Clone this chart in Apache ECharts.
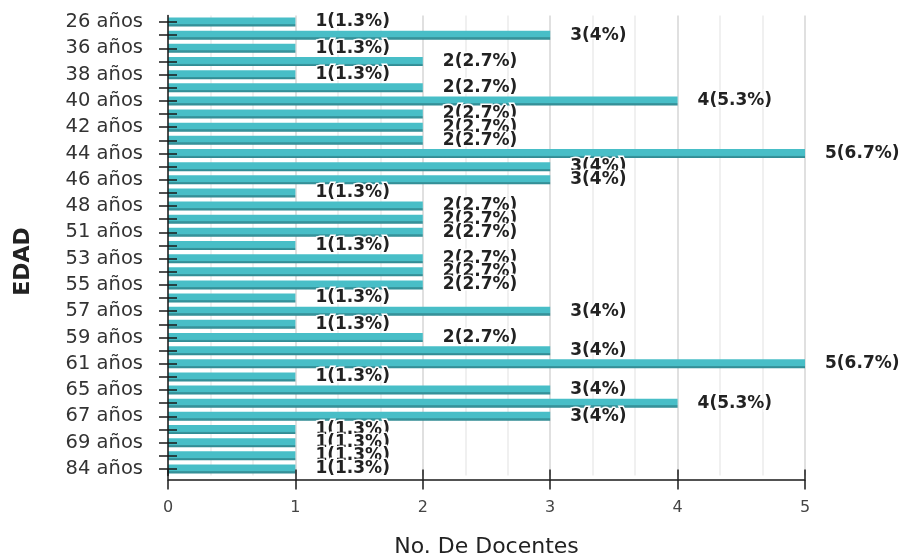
<!DOCTYPE html>
<html>
<head>
<meta charset="utf-8">
<script src="https://cdn.jsdelivr.net/npm/echarts@6/dist/echarts.min.js"></script>
<style>
  html, body { margin: 0; padding: 0; background: #fff; }
  #chart { width: 904px; height: 556px; }
</style>
</head>
<body>
<div id="chart"></div>
<script>
// Age groups (every other label is printed on the axis)
const ages = [
  '26 años', '35 años', '36 años', '37 años', '38 años', '39 años', '40 años',
  '41 años', '42 años', '43 años', '44 años', '45 años', '46 años', '47 años',
  '48 años', '50 años', '51 años', '52 años', '53 años', '54 años', '55 años',
  '56 años', '57 años', '58 años', '59 años', '60 años', '61 años', '63 años',
  '65 años', '66 años', '67 años', '68 años', '69 años', '70 años', '84 años'
];
// Number of teachers per age
const docentes = [
  1, 3, 1, 2, 1, 2, 4,
  2, 2, 2, 5, 3, 3, 1,
  2, 2, 2, 1, 2, 2, 2,
  1, 3, 1, 2, 3, 5, 1,
  3, 4, 3, 1, 1, 1, 1
];
const xTicks = [0, 1, 2, 3, 4, 5];

const total = docentes.reduce((a, b) => a + b, 0);
const font = '"DejaVu Sans", sans-serif';

const chart = echarts.init(document.getElementById('chart'), null, { renderer: 'canvas' });

const barFill = new echarts.graphic.LinearGradient(0, 0, 0, 1, [
  { offset: 0, color: '#48bec7' },
  { offset: 0.72, color: '#48bec7' },
  { offset: 0.74, color: '#3a9aa2' },
  { offset: 1, color: '#2f8991' }
]);

const tickLine = { color: '#1a1a1a', width: 1.5 };

const yBase = {
  type: 'category',
  data: ages,
  inverse: true,
  offset: 4,
  position: 'left'
};

chart.setOption({
  animation: false,
  backgroundColor: '#ffffff',
  grid: { left: 168, right: 99, top: 15.5, bottom: 80.5, outerBoundsMode: 'none' },
  xAxis: [
    {
      type: 'value',
      min: xTicks[0],
      max: xTicks[xTicks.length - 1],
      interval: 1,
      offset: 4,
      name: 'No. De Docentes',
      nameLocation: 'middle',
      nameGap: 57,
      nameTextStyle: { fontFamily: font, fontSize: 22, color: '#222' },
      axisLine: { show: true, lineStyle: tickLine },
      axisTick: { show: true, length: 10, lineStyle: tickLine },
      axisLabel: { fontFamily: font, fontSize: 16, color: '#444', margin: 20 },
      splitLine: { show: true, lineStyle: { color: '#d6d6d6', width: 1.5 } },
      minorTick: { show: false, splitNumber: 3 },
      minorSplitLine: { show: true, lineStyle: { color: '#ececec', width: 1.5 } }
    },
    {
      type: 'value',
      min: xTicks[0],
      max: xTicks[xTicks.length - 1],
      interval: 1,
      offset: 4,
      position: 'bottom',
      z: 10,
      axisLine: { show: false },
      axisTick: { show: true, inside: true, length: 10, lineStyle: tickLine },
      axisLabel: { show: false },
      splitLine: { show: false }
    }
  ],
  yAxis: [
    Object.assign({}, yBase, {
      name: 'EDAD',
      nameLocation: 'middle',
      nameGap: 130,
      nameRotate: 90,
      nameTextStyle: {
        fontFamily: font, fontSize: 22, fontWeight: 'bold', color: '#222',
        padding: [0, 32, 0, 0]
      },
      z: 10,
      axisLine: { show: true, lineStyle: tickLine },
      axisTick: { show: true, interval: 0, alignWithLabel: true, length: 9, lineStyle: tickLine },
      axisLabel: { interval: 1, fontFamily: font, fontSize: 19.5, color: '#333', margin: 21 },
      splitLine: { show: false }
    }),
    Object.assign({}, yBase, {
      z: 10,
      axisLine: { show: false },
      axisTick: { show: true, inside: true, interval: 0, alignWithLabel: true, length: 9, lineStyle: tickLine },
      axisLabel: { show: false },
      splitLine: { show: false }
    })
  ],
  series: [
    {
      type: 'bar',
      xAxisIndex: 0,
      yAxisIndex: 0,
      data: docentes,
      barWidth: 9,
      itemStyle: { color: barFill },
      label: {
        show: true,
        position: 'right',
        distance: 20,
        fontFamily: font,
        fontSize: 17,
        fontWeight: 'bold',
        color: '#222',
        textBorderColor: '#ffffff',
        textBorderWidth: 3,
        formatter: p => p.value + '(' + parseFloat((p.value / total * 100).toFixed(1)) + '%)'
      }
    }
  ]
});
</script>
</body>
</html>
